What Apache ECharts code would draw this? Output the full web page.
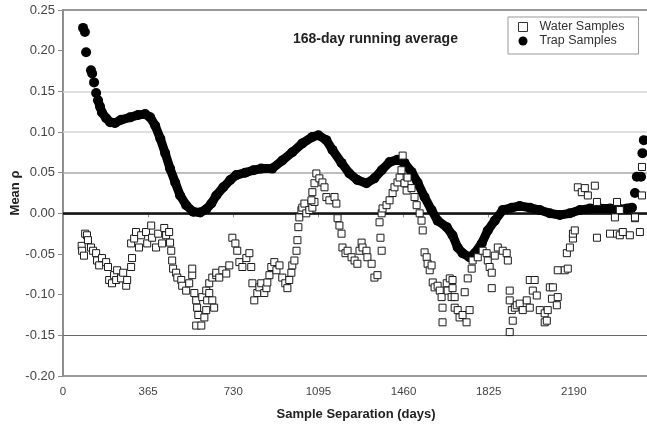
<!DOCTYPE html>
<html>
<head>
<meta charset="utf-8">
<script src="https://cdn.jsdelivr.net/npm/echarts@6/dist/echarts.min.js"></script>
<style>
	html, body { margin: 0; padding: 0; background: #fff; }
	#chart { width: 647px; height: 425px; }
</style>
</head>
<body>
<div id="chart"></div>
<script>
// x ticks (days) and y ticks
var xTicks = [0, 365, 730, 1095, 1460, 1825, 2190]
var yTicks = [-0.20, -0.15, -0.10, -0.05, 0.00, 0.05, 0.10, 0.15, 0.20, 0.25]

// horizontal rules as they appear in the figure
var ruleValues = [0.15, 0.10, 0.05, 0.00, -0.15]

// Trap samples: [sample separation (days), mean rho]
var trapSamples = [
	[86,0.228],[94,0.223],[99,0.198],[120,0.176],[125,0.172],[133,0.161],[142,0.148],[150,0.139],
	[159,0.131],[167,0.124],[185,0.117],[202,0.112],[223,0.111],[249,0.115],[288,0.118],[322,0.121],
	[352,0.122],[374,0.118],[395,0.108],[417,0.092],[438,0.074],[459,0.055],[481,0.038],[502,0.022],
	[528,0.010],[558,0.002],[588,0.001],[614,0.005],[636,0.012],[657,0.022],[687,0.032],[717,0.041],
	[743,0.047],[781,0.050],[816,0.053],[850,0.055],[897,0.055],[940,0.065],[983,0.075],[1026,0.086],
	[1069,0.094],[1095,0.096],[1129,0.090],[1155,0.078],[1194,0.062],[1228,0.049],[1262,0.041],
	[1301,0.037],[1335,0.043],[1366,0.053],[1400,0.063],[1434,0.066],[1464,0.062],[1494,0.051],
	[1520,0.038],[1550,0.020],[1580,0.004],[1606,-0.009],[1645,-0.017],[1670,-0.027],[1692,-0.042],
	[1713,-0.049],[1743,-0.054],[1765,-0.049],[1795,-0.037],[1821,-0.021],[1851,-0.009],[1885,0.004],
	[1924,0.007],[1958,0.009],[2001,0.007],[2044,0.004],[2087,0.000],[2130,-0.002],[2173,0.000],
	[2216,0.004],[2259,0.006],[2302,0.006],[2345,0.006],[2387,0.005],[2418,0.006],[2439,0.007],
	[2452,0.025],[2460,0.045],[2478,0.045],[2484,0.074],[2490,0.090]
]

// Water samples: [sample separation (days), mean rho]
var waterSamples = [
	[80,-0.040],[82,-0.046],[90,-0.052],[95,-0.025],[103,-0.027],[107,-0.033],[120,-0.042],[129,-0.046],
	[142,-0.049],[146,-0.058],[155,-0.064],[167,-0.055],[185,-0.060],[193,-0.066],[198,-0.082],
	[210,-0.086],[219,-0.076],[228,-0.082],[232,-0.070],[249,-0.080],[258,-0.073],[271,-0.089],
	[275,-0.082],[292,-0.066],[296,-0.055],
	[292,-0.037],[305,-0.031],[313,-0.023],[326,-0.042],[335,-0.027],[356,-0.023],[361,-0.037],
	[378,-0.015],[382,-0.030],[399,-0.042],[408,-0.025],[425,-0.037],[434,-0.018],[442,-0.027],
	[455,-0.023],[459,-0.036],[464,-0.046],[468,-0.058],[472,-0.068],[485,-0.073],[490,-0.079],
	[507,-0.082],[511,-0.089],[528,-0.095],[541,-0.086],[554,-0.076],[554,-0.068],[563,-0.098],
	[571,-0.107],[575,-0.116],[580,-0.125],[571,-0.138],[593,-0.138],[597,-0.103],[606,-0.128],
	[614,-0.119],[614,-0.095],[618,-0.107],[627,-0.098],[627,-0.086],[640,-0.107],[640,-0.079],
	[648,-0.116],[657,-0.076],[657,-0.073],[670,-0.079],[683,-0.070],[700,-0.074],[713,-0.064],
	[726,-0.030],[739,-0.037],[747,-0.046],[756,-0.060],[769,-0.066],[786,-0.055],[799,-0.049],
	[807,-0.066],[812,-0.086],[820,-0.107],[833,-0.098],[842,-0.091],[850,-0.086],[863,-0.098],
	[872,-0.092],[876,-0.085],[885,-0.076],[893,-0.066],[906,-0.060],[915,-0.070],[928,-0.064],
	[940,-0.079],[953,-0.086],[962,-0.092],[970,-0.082],[979,-0.073],[983,-0.064],[992,-0.058],
	[1001,-0.046],[1005,-0.033],[1009,-0.017],[1013,-0.005],[1022,0.004],[1026,0.007],[1035,0.012],
	[1043,0.000],[1056,0.004],[1069,0.007],[1078,0.014],[1065,0.016],[1069,0.026],[1078,0.037],
	[1086,0.049],[1099,0.043],[1112,0.038],[1121,0.032],[1129,0.020],[1142,0.016],[1164,0.020],
	[1172,0.012],[1177,-0.006],[1185,-0.015],[1194,-0.025],[1198,-0.042],[1211,-0.049],[1220,-0.046],
	[1237,-0.054],[1250,-0.058],[1262,-0.062],[1271,-0.046],[1280,-0.036],[1284,-0.042],[1301,-0.046],
	[1305,-0.054],[1323,-0.062],[1335,-0.079],[1348,-0.076],[1366,-0.046],[1361,-0.030],[1357,-0.011],
	[1366,0.000],[1370,0.006],[1387,0.010],[1400,0.016],[1413,0.025],[1421,0.032],[1434,0.038],
	[1443,0.044],[1451,0.053],[1456,0.071],[1464,0.037],[1473,0.028],[1477,0.044],[1494,0.031],
	[1507,0.020],[1516,0.010],[1529,0.000],[1537,-0.009],[1542,-0.021],[1550,-0.048],[1559,-0.054],
	[1563,-0.062],[1572,-0.070],[1580,-0.064],[1585,-0.085],[1593,-0.091],[1606,-0.089],[1615,-0.095],
	[1623,-0.103],[1627,-0.116],[1627,-0.134],[1645,-0.086],[1649,-0.095],[1658,-0.080],[1666,-0.103],
	[1670,-0.082],[1670,-0.092],[1679,-0.103],[1679,-0.116],[1692,-0.119],[1700,-0.128],[1713,-0.125],
	[1722,-0.097],[1730,-0.134],[1735,-0.080],[1743,-0.119],[1752,-0.068],[1756,-0.058],[1778,-0.054],
	[1799,-0.046],[1816,-0.049],[1821,-0.058],[1829,-0.066],[1838,-0.073],[1838,-0.092],[1851,-0.052],
	[1864,-0.042],[1885,-0.046],[1902,-0.049],[1907,-0.058],
	[1915,-0.095],[1915,-0.107],[1924,-0.119],[1928,-0.132],[1915,-0.146],[1937,-0.116],[1945,-0.113],
	[1958,-0.111],[1971,-0.119],[1988,-0.107],[2001,-0.116],[2001,-0.082],[2014,-0.095],[2022,-0.082],
	[2031,-0.101],[2044,-0.119],[2065,-0.123],[2065,-0.134],[2074,-0.132],[2078,-0.119],[2087,-0.091],
	[2096,-0.105],[2100,-0.091],[2117,-0.113],[2121,-0.103],[2121,-0.070],[2151,-0.070],[2164,-0.068],
	[2160,-0.049],[2173,-0.042],[2186,-0.031],[2186,-0.025],[2194,-0.021],
	[2207,0.032],[2224,0.026],[2237,0.031],[2250,0.022],[2280,0.034],[2289,0.014],[2289,-0.030],
	[2345,-0.025],[2366,-0.005],[2375,0.014],[2375,-0.025],[2387,0.004],[2387,-0.027],[2400,-0.023],
	[2430,-0.027],[2452,-0.006],[2452,-0.005],[2473,-0.023],[2482,0.022],[2482,0.057]
]

var font = 'Liberation Sans, Arial, sans-serif'

// styles of the horizontal rules, same order as ruleValues
var ruleStyles = [
	{ color: '#d4d4d4', width: 1.5 },
	{ color: '#d4d4d4', width: 1.5 },
	{ color: '#a8a8a8', width: 1.5 },
	{ color: '#111', width: 2.5 },
	{ color: '#666', width: 1.2 }
]

var chart = echarts.init(document.getElementById('chart'))

var option = {}
option.animation = false
option.backgroundColor = '#fff'

option.title = {
	text: '168-day running average',
	left: 288,
	top: 27,
	textStyle: { fontFamily: font, fontSize: 14, fontWeight: 'bold', color: '#222' }
}

option.legend = {
	orient: 'vertical',
	left: 508,
	top: 17,
	padding: [3, 14, 6, 10],
	itemGap: 0,
	itemWidth: 9,
	itemHeight: 9,
	borderColor: '#999',
	borderWidth: 1,
	textStyle: { fontFamily: font, fontSize: 12.5, color: '#333', padding: [0, 0, 0, 7], lineHeight: 14 },
	data: [
		{ name: 'Water Samples', icon: 'rect', itemStyle: { borderWidth: 1, borderColor: '#333', color: '#fff' } },
		{ name: 'Trap Samples', icon: 'circle' }
	]
}

// plot area runs past the right edge of the picture (cropped figure);
// the grid border gives the top rule at 0.25
option.grid = {
	show: true,
	borderColor: '#7a7a7a',
	borderWidth: 1.5,
	backgroundColor: 'transparent',
	left: 63,
	right: -12,
	top: 10,
	bottom: 49,
	outerBoundsMode: 'none'
}

option.xAxis = {
	type: 'value',
	min: 0,
	max: 2555,
	interval: 365,
	name: 'Sample Separation (days)',
	nameLocation: 'middle',
	nameGap: 32,
	nameMoveOverlap: false,
	nameTextStyle: { fontFamily: font, fontSize: 13, fontWeight: 'bold', color: '#222', padding: [0, 10, 0, 0] },
	axisLine: { show: true, lineStyle: { color: '#8a8a8a', width: 1.5 } },
	axisTick: { show: true, length: 4, lineStyle: { color: '#8a8a8a' } },
	axisLabel: {
		margin: 10,
		showMaxLabel: false,
		fontFamily: font, fontSize: 11.5, color: '#444',
		formatter: function(v) { return xTicks.indexOf(v) >= 0 ? String(v) : '' }
	},
	splitLine: { show: false }
}

option.yAxis = {
	type: 'value',
	min: -0.20,
	max: 0.25,
	interval: 0.05,
	name: 'Mean ρ',
	nameLocation: 'middle',
	nameGap: 41,
	nameMoveOverlap: false,
	nameTextStyle: { fontFamily: font, fontSize: 13, fontWeight: 'bold', color: '#222' },
	axisLine: { show: true, lineStyle: { color: '#8a8a8a', width: 1.5 } },
	axisTick: { show: true, length: 5, lineStyle: { color: '#8a8a8a' } },
	axisLabel: {
		margin: 8,
		fontFamily: font, fontSize: 13, color: '#444',
		formatter: function(v) {
			var t = yTicks.reduce(function(a, b) { return Math.abs(b - v) < Math.abs(a - v) ? b : a })
			return t.toFixed(2)
		}
	},
	splitLine: { show: false }
}

option.series = [{
	// horizontal rules
	type: 'line',
	name: 'rules',
	data: [],
	silent: true,
	markLine: {
		z: 1,
		silent: true,
		symbol: ['none', 'none'],
		label: { show: false },
		data: ruleValues.map(function(v, i) {
			return { yAxis: v, lineStyle: Object.assign({ type: 'solid' }, ruleStyles[i]) }
		})
	}
}, {
	// thick band joining the trap points
	type: 'line',
	name: 'trapBand',
	data: trapSamples.slice(7, trapSamples.length - 5),
	showSymbol: false,
	silent: true,
	z: 2,
	lineStyle: { color: '#000', width: 9, join: 'round', cap: 'round' }
}, {
	type: 'scatter',
	name: 'Trap Samples',
	data: trapSamples,
	symbol: 'circle',
	symbolSize: 10,
	z: 3,
	itemStyle: { color: '#000', opacity: 1 }
}, {
	type: 'scatter',
	name: 'Water Samples',
	data: waterSamples,
	symbol: 'rect',
	symbolSize: 7,
	z: 4,
	itemStyle: { color: '#fff', borderColor: '#1a1a1a', borderWidth: 1, opacity: 1 }
}]

chart.setOption(option)
</script>
</body>
</html>
